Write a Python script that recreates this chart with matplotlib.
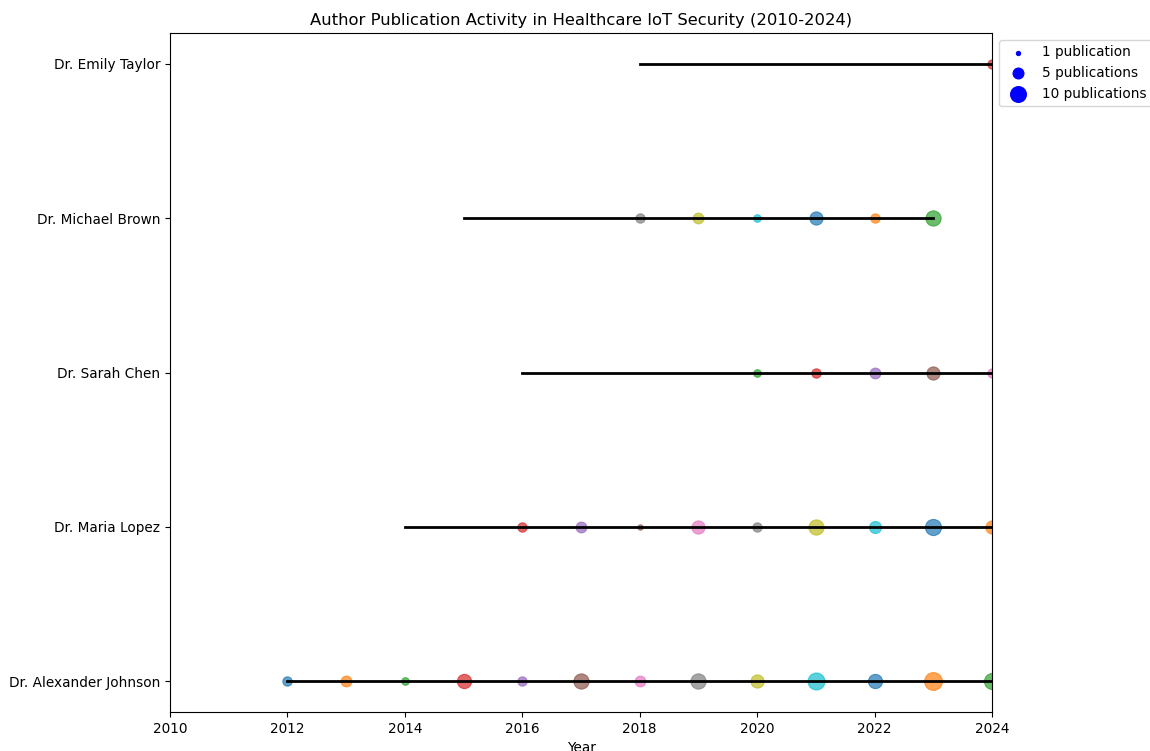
import matplotlib
matplotlib.use("Agg")
import matplotlib.pyplot as plt

plt.rcParams["font.size"] = 9.8

# Authors (bottom to top) and their career spans
authors = ["Dr. Alexander Johnson", "Dr. Maria Lopez", "Dr. Sarah Chen",
           "Dr. Michael Brown", "Dr. Emily Taylor"]
career_start = [2012, 2014, 2016, 2015, 2018]
career_end = [2024, 2024, 2024, 2023, 2024]

# Yearly publication counts per author
pub_years = [
    [2012, 2013, 2014, 2015, 2016, 2017, 2018, 2019, 2020, 2021, 2022, 2023, 2024],
    [2016, 2017, 2018, 2019, 2020, 2021, 2022, 2023, 2024],
    [2020, 2021, 2022, 2023, 2024],
    [2018, 2019, 2020, 2021, 2022, 2023],
    [2024],
]
pub_counts = [
    [3, 4, 2, 7, 3, 8, 4, 8, 6, 10, 7, 11, 9],
    [3, 4, 1, 6, 3, 8, 5, 9, 6],
    [2, 3, 4, 6, 3],
    [3, 4, 2, 6, 3, 8],
    [3],
]

legend_counts = [1, 5, 10]
legend_labels = ["1 publication", "5 publications", "10 publications"]

SIZE_PER_PUB = 15
palette = plt.get_cmap("tab10").colors

fig = plt.figure(figsize=(11.5, 7.51), dpi=100)
ax = fig.add_axes([170 / 1150, 39 / 751, 822 / 1150, 679 / 751])

k = 0
for i, name in enumerate(authors):
    ax.plot([career_start[i], career_end[i]], [i, i], color="black", linewidth=2)
    for yr, n in zip(pub_years[i], pub_counts[i]):
        ax.scatter(yr, i, s=n * SIZE_PER_PUB, color=palette[k % 10],
                   alpha=0.7, linewidths=0.8)
        k += 1

ax.set_yticks(range(len(authors)))
ax.set_yticklabels(authors)
ax.set_xlim(2010, 2024)
ax.set_xlabel("Year")
ax.set_title("Author Publication Activity in Healthcare IoT Security (2010-2024)")

handles = [ax.scatter([], [], s=n * SIZE_PER_PUB, color="blue", linewidths=0)
           for n in legend_counts]
ax.legend(handles, legend_labels, loc="upper left", bbox_to_anchor=(1, 1))

fig.savefig("out.png", dpi=100)
